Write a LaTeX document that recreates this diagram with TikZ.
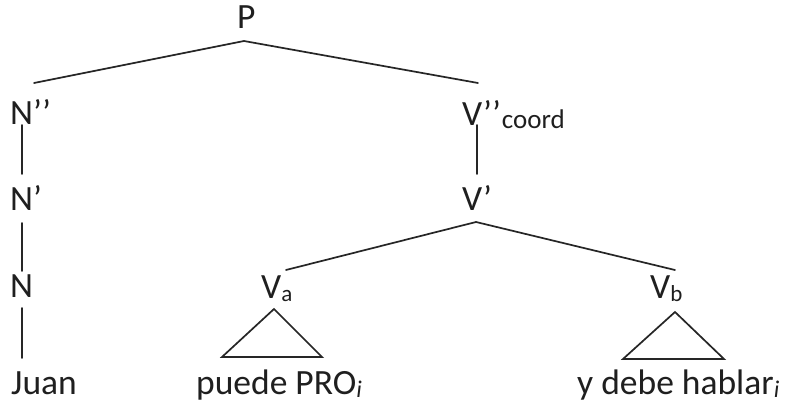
\documentclass[tikz,border=0pt]{standalone}
\usepackage{fontspec}
\setmainfont{Carlito}
\newcommand\sbx[2][23]{\raisebox{-3pt}{\fontsize{#1}{#1}\selectfont #2}}
\tikzset{
  lbl/.style={anchor=base west, inner sep=0pt, font=\fontsize{35.5}{40}\selectfont, text=black!88},
  br/.style={line width=1.7pt, draw=black!85, line cap=round, line join=miter},
}
\begin{document}
\begin{tikzpicture}[x=1pt,y=-1pt]
\useasboundingbox[fill=white] (0,0) rectangle (785,403);
% labels
\node[lbl] (P)    at (237,29)  {P};
\node[lbl] (Npp)  at (10,125)  {N’’};
\node[lbl] (Np)   at (10,211)  {N’};
\node[lbl] (N)    at (10,298)  {N};
\node[lbl] (Juan) at (11,395)  {Juan};
\node[lbl] (Vpp)  at (462,126) {V’’\kern1pt\sbx[27]{coord}};
\node[lbl] (Vp)   at (462,211) {V’};
\node[lbl] (Va)   at (261,299) {V\sbx{a}};
\node[lbl] (Vb)   at (650,299) {V\sbx{b}};
\node[lbl] (ta)   at (196,395) {puede PRO\sbx[24]{\itshape i}};
\node[lbl] (tb)   at (577,395) {y debe hablar\sbx[24]{\itshape i}};
% branch points
\coordinate (Pd)   at (244,41);
\coordinate (Nppu) at (34,83);
\coordinate (Vppu) at (478,83);
\coordinate (Nppd) at (22,125);
\coordinate (Npu)  at (22,174);
\coordinate (Npd)  at (22,223);
\coordinate (Nu)   at (22,271);
\coordinate (Nd)   at (22,308);
\coordinate (Juanu) at (22,358);
\coordinate (Vppd) at (477,125);
\coordinate (Vpu)  at (477,174);
\coordinate (Vpd)  at (476,222);
\coordinate (Vau)  at (286,270);
\coordinate (Vbu)  at (675,270);
\coordinate (Vad)  at (274,309);
\coordinate (tal)  at (222,357);
\coordinate (tar)  at (322,357);
\coordinate (Vbd)  at (675,312);
\coordinate (tbl)  at (623,359);
\coordinate (tbr)  at (724,359);
% connectors
\draw[br] (Nppu) -- (Pd) -- (Vppu);
\draw[br] (Nppd) -- (Npu);
\draw[br] (Npd) -- (Nu);
\draw[br] (Nd) -- (Juanu);
\draw[br] (Vppd) -- (Vpu);
\draw[br] (Vau) -- (Vpd) -- (Vbu);
\draw[br] (Vad) -- (tal) -- (tar) -- cycle;
\draw[br] (Vbd) -- (tbl) -- (tbr) -- cycle;
\end{tikzpicture}
\end{document}
